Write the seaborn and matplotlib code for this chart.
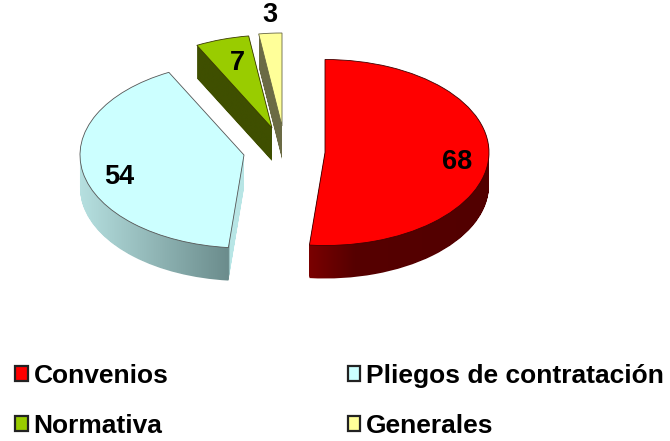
import numpy as np
import matplotlib
matplotlib.use('Agg')
import matplotlib.pyplot as plt
import seaborn as sns
from matplotlib.colors import LinearSegmentedColormap
from matplotlib.patches import Patch
from matplotlib.path import Path

categories = ['Convenios', 'Pliegos de contratación', 'Normativa', 'Generales']
values = [68, 54, 7, 3]

pie_colors = ['#ff0000', '#ccffff', '#99cc00', '#ffff99']
# gradient stops of the side walls, the blue one turns light on its cut face
wall_colors = [[(0, '#7a0000'), (0.25, '#560000'), (1, '#520000')],
               [(0, '#b8e2e2'), (0.912, '#6b8c8c'), (0.918, '#b8e6e6'), (1, '#b8e6e6')],
               [(0, '#3f4f00'), (1, '#3f4f00')],
               [(0, '#6b6b45'), (1, '#6b6b45')]]
edge_colors = ['#400000', '#555555', '#3a3a00', '#666644']

# pixel layout of the picture: pie radius, depth, apex of every slice
RX, RY, DEPTH = 164, 93, 33
apex_px = [(325, 152.5), (244, 155), (272, 128), (282, 126)]
label_px = [(457, 162), (119, 177), (237, 63), (270, 15)]
W, H = 670, 441

sns.set_theme(style='white')
plt.rcParams['font.family'] = ['Liberation Sans', 'DejaVu Sans']

fig = plt.figure(figsize=(W / 100, H / 100), dpi=100)
ax = fig.add_axes([0, 0, 1, 1])

wedges, _ = ax.pie(values, colors=sns.color_palette(pie_colors), startangle=90,
                   counterclock=False, radius=1)


def to_data(x, y):
    return (x - apex_px[0][0]) / RX, (apex_px[0][1] - y) / RY


ax.set_aspect('auto')
xlim = (to_data(0, 0)[0], to_data(W, 0)[0])
ylim = (to_data(0, H)[1], to_data(0, 0)[1])

for i, w in enumerate(wedges):
    w.set_center(to_data(*apex_px[i]))
    w.set_edgecolor(edge_colors[i])
    w.set_linewidth(0.6)
    w.set_zorder(10 + i * 2 + 1)

    # side wall: stacked copies of the slice outline, filled with a gradient
    path = w.get_path()
    step = 1 / RY
    layers = [Path(path.vertices - [0, k * step], path.codes) for k in range(1, DEPTH + 1)]
    wall = Path.make_compound_path(*layers)
    xs = path.vertices[:, 0]
    ys = wall.vertices[:, 1]
    cmap = LinearSegmentedColormap.from_list('wall', wall_colors[i], N=512)
    im = ax.imshow(np.linspace(0, 1, 400).reshape(1, -1), cmap=cmap, aspect='auto',
                   extent=(xs.min(), xs.max(), ys.min(), ys.max()), zorder=10 + i * 2)
    im.set_clip_path(wall, transform=ax.transData)

    ax.text(*to_data(*label_px[i]), str(values[i]), ha='center', va='center',
            fontsize=19.5, fontweight='bold', color='black', zorder=30)

ax.set_xlim(*xlim)
ax.set_ylim(*ylim)
ax.axis('off')

handles = [Patch(facecolor=c, edgecolor='#222222', linewidth=1.6) for c in pie_colors]
order = [0, 2, 1, 3]
ax.legend([handles[i] for i in order], [categories[i] for i in order], ncol=2,
          loc='lower left', bbox_to_anchor=(15 / W, 3 / H), frameon=False,
          prop={'family': 'Liberation Sans', 'weight': 'bold', 'size': 19},
          labelcolor='black', handlelength=0.48, handleheight=0.5, handletextpad=0.22,
          labelspacing=1.0, columnspacing=6.8, borderaxespad=0, borderpad=0)

fig.savefig('out.png', dpi=100)
